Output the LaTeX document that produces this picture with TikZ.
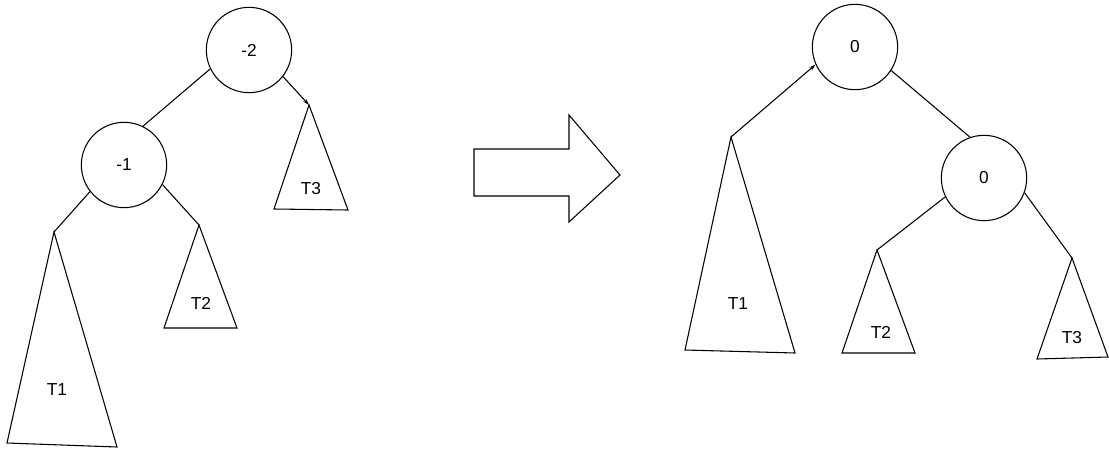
\documentclass[tikz,border=0pt]{standalone}
\usepackage{fontspec}
\setmainfont{Liberation Sans}
\usetikzlibrary{arrows.meta}
\begin{document}
\begin{tikzpicture}[x=0.75pt,y=-0.75pt,
  line width=0.8pt,
  bal/.style={circle,draw,minimum size=64pt,inner sep=0pt,font=\fontsize{13}{15}\selectfont},
  sub/.style={draw,line join=miter},
  lbl/.style={inner sep=0pt,font=\fontsize{13}{15}\selectfont},
  edge/.style={draw},
  tipped/.style={draw,-{Stealth[length=5pt,width=3pt]}}]
\useasboundingbox (0,0) rectangle (1109,450);
\fill[white] (0,0) rectangle (1109,450);

% ---------- left tree ----------
\node[bal] (lroot) at (249,50) {-2};
\node[bal] (lmid) at (124,165) {-1};

\coordinate (lt1a) at (54,232);
\coordinate (lt2a) at (199,225);
\coordinate (lt3a) at (309,105);

\path[sub] (lt1a) -- (7,443) -- (117,447) -- cycle;
\path[sub] (lt2a) -- (164,328) -- (237,328) -- cycle;
\path[sub] (lt3a) -- (274,209) -- (348,210) -- cycle;

\node[lbl] (lt1) at (57,390) {T1};
\node[lbl] (lt2) at (201,303) {T2};
\node[lbl] (lt3) at (311,189) {T3};

\path[edge] (lroot.206.6) -- (lmid.64.7);
\path[tipped] (lroot.-38.5) -- (lt3a);
\path[edge] (lmid.218.5) -- (lt1a);
\path[edge] (lmid.-27.8) -- (lt2a);

% ---------- transformation arrow ----------
\path[draw,line join=miter] (474,149) -- (569,149) -- (569,115) -- (620,175)
  -- (569,222) -- (569,196) -- (474,196) -- cycle;

% ---------- right tree ----------
\node[bal] (rroot) at (855,47) {0};
\node[bal] (rmid) at (984,178) {0};

\coordinate (rt1a) at (731,137);
\coordinate (rt2a) at (877,250);
\coordinate (rt3a) at (1072,258);

\path[sub] (rt1a) -- (685,350) -- (795,353) -- cycle;
\path[sub] (rt2a) -- (842,353) -- (915,353) -- cycle;
\path[sub] (rt3a) -- (1037,359) -- (1108,357) -- cycle;

\node[lbl] (rt1) at (738,304) {T1};
\node[lbl] (rt2) at (881,332) {T2};
\node[lbl] (rt3) at (1072,338) {T3};

\path[tipped] (rt1a) -- (rroot.204.8);
\path[edge] (rroot.-33.3) -- (rmid.109.3);
\path[edge] (rmid.206) -- (rt2a);
\path[edge] (rmid.-20.1) -- (rt3a);
\end{tikzpicture}
\end{document}
